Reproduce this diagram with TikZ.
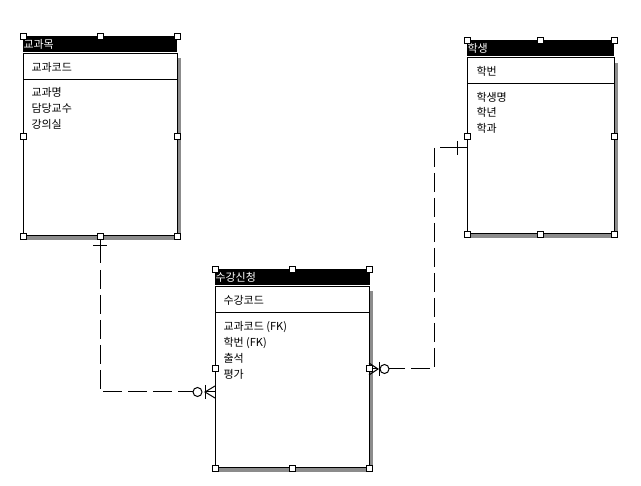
\documentclass[tikz,border=0pt]{standalone}
\usepackage{fontspec}
\setmainfont{Noto Sans CJK KR}
\usetikzlibrary{positioning}

\begin{document}
\begin{tikzpicture}[x=1pt, y=-1pt, line width=1pt,
	every node/.style={font=\fontsize{11}{12}\selectfont},
	titlebar/.style={fill=black, anchor=north west, inner sep=0pt, outer sep=0pt, minimum height=16pt},
	titletext/.style={text=white, inner sep=0pt},
	entbox/.style={draw, fill=white, anchor=north west, inner sep=0pt, outer sep=0pt},
	attr/.style={anchor=west, inner sep=0pt},
	handle/.style={draw, fill=white, line width=.8pt, inner sep=0pt, minimum size=6pt},
	shade/.style={fill=black!45},
	relline/.style={line width=1pt},
	reldash/.style={line width=1pt, dash pattern=on 19pt off 6pt}]
	\useasboundingbox (0,0) rectangle (641,486);

	% shadows
	\fill[shade] (177,58) rectangle (181,240);
	\fill[shade] (27,236) rectangle (181,240);
	\fill[shade] (614,63) rectangle (618,238);
	\fill[shade] (471,234) rectangle (618,238);
	\fill[shade] (369,291) rectangle (373,472);
	\fill[shade] (219,468) rectangle (373,472);

	% 교과목
	\node[titlebar, minimum width=154pt] (gwamok-title) at (23,36) {};
	\node[titletext, right=0pt of gwamok-title.west] (gwamok-name) {교과목};
	\node[entbox, minimum width=154pt, minimum height=182pt] (gwamok) at (23,54) {};
	\draw (gwamok.west |- 0,80) -- (gwamok.east |- 0,80);
	\node[attr] (gwamok-key) at (31,67) {교과코드};
	\foreach \t [count=\i] in {교과명,담당교수,강의실}
		\node[attr] (gwamok-a\i) at (31,{77+15.7*\i}) {\t};

	% 학생
	\node[titlebar, minimum width=147pt] (haksaeng-title) at (467,40) {};
	\node[titletext, right=0pt of haksaeng-title.west] (haksaeng-name) {학생};
	\node[entbox, minimum width=147pt, minimum height=176pt] (haksaeng) at (467,58) {};
	\draw (haksaeng.west |- 0,84) -- (haksaeng.east |- 0,84);
	\node[attr] (haksaeng-key) at (476,71.5) {학번};
	\foreach \t [count=\i] in {학생명,학년,학과}
		\node[attr] (haksaeng-a\i) at (476,{81.3+15.7*\i}) {\t};

	% 수강신청
	\node[titlebar, minimum width=155pt] (sugang-title) at (215,269) {};
	\node[titletext, right=0pt of sugang-title.west] (sugang-name) {수강신청};
	\node[entbox, minimum width=154pt, minimum height=181pt] (sugang) at (215,287) {};
	\draw (sugang.west |- 0,313) -- (sugang.east |- 0,313);
	\node[attr] (sugang-key) at (223,300) {수강코드};
	\foreach \t [count=\i] in {교과코드 (FK),학번 (FK),출석,평가}
		\node[attr] (sugang-a\i) at (223,{311.5+15.7*\i}) {\t};

	% relationship ends
	\coordinate (sugang-l) at (215,392);
	\coordinate (sugang-r) at (369,369);
	\coordinate (haksaeng-l) at (467,148);

	% 교과목 -- 수강신청
	\draw[relline] (gwamok.south) -- ++(0,27);
	\draw[relline] (gwamok.south) ++(-7,10) -- ++(14,0);
	\draw[reldash] ([yshift=-34pt]gwamok.south) |- ([xshift=-22pt]sugang-l);
	\draw ([xshift=-17.5pt]sugang-l) circle (4.5pt);
	\draw ([shift={(-10pt,7pt)}]sugang-l) -- ([shift={(-10pt,-7pt)}]sugang-l);
	\draw ([yshift=6pt]sugang-l) -- ([xshift=-10pt]sugang-l) -- ([yshift=-6pt]sugang-l);
	\draw ([xshift=-10pt]sugang-l) -- (sugang-l);

	% 학생 -- 수강신청
	\draw[relline] (haksaeng-l) -- ++(-27,0);
	\draw ([shift={(-10pt,7pt)}]haksaeng-l) -- ([shift={(-10pt,-7pt)}]haksaeng-l);
	\draw[reldash] ([xshift=-33pt]haksaeng-l) |- ([xshift=20pt]sugang-r);
	\draw ([xshift=15.5pt]sugang-r) circle (4.5pt);
	\draw ([shift={(10.5pt,7pt)}]sugang-r) -- ([shift={(10.5pt,-7pt)}]sugang-r);
	\draw ([yshift=6pt]sugang-r) -- ([xshift=9pt]sugang-r) -- ([yshift=-6pt]sugang-r);
	\draw ([xshift=9pt]sugang-r) -- (sugang-r);

	% handles
	\foreach \p [count=\i] in {(23,36),(100,36),(177,36),(23,136),(177,136),(23,236),(100,236),(177,236)}
		\node[handle] (gwamok-h\i) at \p {};
	\foreach \p [count=\i] in {(467,40),(540,40),(614,40),(467,136),(614,136),(467,234),(540,234),(614,234)}
		\node[handle] (haksaeng-h\i) at \p {};
	\foreach \p [count=\i] in {(215,269),(292,269),(369,269),(215,368),(369,368),(215,468),(292,468),(369,468)}
		\node[handle] (sugang-h\i) at \p {};
\end{tikzpicture}
\end{document}
